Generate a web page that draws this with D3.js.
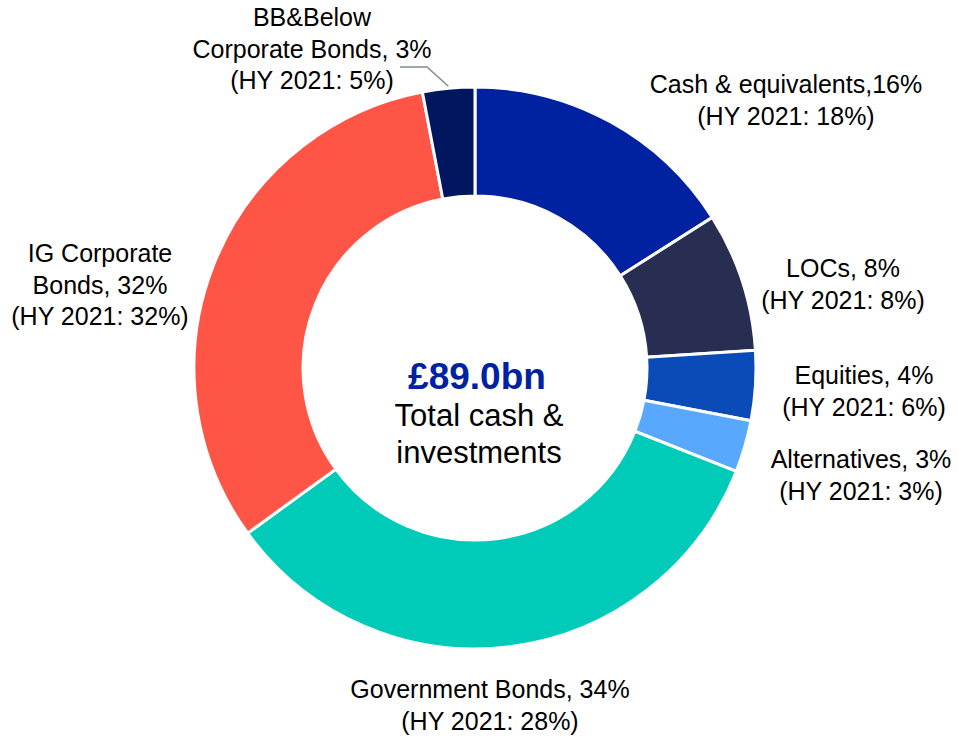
<!DOCTYPE html>
<html>
<head>
<meta charset="utf-8">
<script src="https://cdn.jsdelivr.net/npm/d3@7.9.0/dist/d3.min.js"></script>
<style>
  html, body { margin: 0; padding: 0; background: #fff; }
  svg { display: block; font-family: "Liberation Sans", Arial, sans-serif; }
</style>
</head>
<body>
<div id="chart"></div>
<script>
// chart data
const categories = ['Cash & equivalents', 'LOCs', 'Equities', 'Alternatives',
  'Government Bonds', 'IG Corporate Bonds', 'BB&Below Corporate Bonds'];
const shares = [16, 8, 4, 3, 34, 32, 3];
const priorShares = [18, 8, 6, 3, 28, 32, 5];
const totalLabel = '£89.0bn';
const centerLines = ['Total cash &', 'investments'];

const colors = ['#0022a0', '#272e52', '#0b4bb7', '#58a8ff', '#00cbb8', '#ff5546', '#00165e'];

// label text lines, placed by hand like the original
const labelLayout = [
  { x: 786, y: 93, lines: d => [`Cash & equivalents,${d.v}%`, `(HY 2021: ${d.p}%)`] },
  { x: 843, y: 277, lines: d => [`LOCs, ${d.v}%`, `(HY 2021: ${d.p}%)`] },
  { x: 864, y: 384, lines: d => [`Equities, ${d.v}%`, `(HY 2021: ${d.p}%)`] },
  { x: 861, y: 468, lines: d => [`Alternatives, ${d.v}%`, `(HY 2021: ${d.p}%)`] },
  { x: 490, y: 698, lines: d => [`Government Bonds, ${d.v}%`, `(HY 2021: ${d.p}%)`] },
  { x: 100, y: 262, lines: d => ['IG Corporate', `Bonds, ${d.v}%`, `(HY 2021: ${d.p}%)`] },
  { x: 312, y: 26, lines: d => ['BB&Below', `Corporate Bonds, ${d.v}%`, `(HY 2021: ${d.p}%)`] }
];

const width = 958;
const height = 737;
const cx = 475, cy = 368;
const outerR = 281, innerR = 172;

const svg = d3.select('#chart')
  .append('svg')
  .attr('width', width)
  .attr('height', height);

const data = categories.map((c, i) => ({ name: c, v: shares[i], p: priorShares[i], i }));

const pie = d3.pie()
  .value(d => d.v)
  .sort(null)
  .startAngle(0)
  .endAngle(2 * Math.PI);

const arc = d3.arc().innerRadius(innerR).outerRadius(outerR);

const g = svg.append('g').attr('transform', `translate(${cx},${cy})`);

g.selectAll('path')
  .data(pie(data))
  .join('path')
  .attr('d', arc)
  .attr('fill', d => colors[d.data.i])
  .attr('stroke', '#fff')
  .attr('stroke-width', 3)
  .attr('stroke-linejoin', 'miter');

// leader line for the small BB slice
const bbArc = pie(data)[6];
const mid = (bbArc.startAngle + bbArc.endAngle) / 2;
const edge = [cx + Math.sin(mid) * (outerR + 2), cy - Math.cos(mid) * (outerR + 2)];
svg.append('path')
  .attr('d', d3.line()([[400, 67], [427, 67], edge]))
  .attr('fill', 'none')
  .attr('stroke', '#7f8c8d')
  .attr('stroke-width', 1.5);

// labels
const labels = svg.append('g').attr('class', 'labels');
data.forEach((d, i) => {
  const lay = labelLayout[i];
  const t = labels.append('text')
    .attr('x', lay.x)
    .attr('y', lay.y)
    .attr('text-anchor', 'middle')
    .attr('font-size', 25)
    .attr('fill', '#000');
  lay.lines(d).forEach((line, j) => {
    t.append('tspan')
      .attr('x', lay.x)
      .attr('dy', j === 0 ? 0 : 31.5)
      .text(line);
  });
});

// centre text
svg.append('text')
  .attr('x', 477)
  .attr('y', 389)
  .attr('text-anchor', 'middle')
  .attr('font-size', 37)
  .attr('font-weight', 'bold')
  .attr('fill', '#0022a0')
  .text(totalLabel);

centerLines.forEach((line, j) => {
  svg.append('text')
    .attr('x', 479)
    .attr('y', 426 + j * 37)
    .attr('text-anchor', 'middle')
    .attr('font-size', 31)
    .attr('fill', '#000')
    .text(line);
});
</script>
</body>
</html>
